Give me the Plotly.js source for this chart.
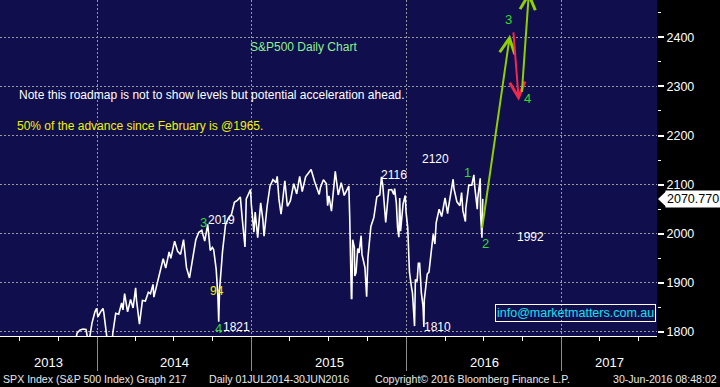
<!DOCTYPE html>
<html><head><meta charset="utf-8">
<script src="https://cdn.plot.ly/plotly-3.0.1.min.js"></script>
<style>html,body{margin:0;padding:0;background:#000;overflow:hidden}#chart{width:720px;height:387px}</style>
</head><body><div id="chart"></div>
<script>
const dates = [
'2013-10-25','2013-11-01','2013-11-08','2013-11-15','2013-11-22','2013-11-29','2013-12-06','2013-12-12','2013-12-20','2013-12-27','2013-12-31',
'2014-01-03','2014-01-10','2014-01-15','2014-01-17','2014-01-24','2014-01-31','2014-02-03','2014-02-05','2014-02-07','2014-02-14','2014-02-21','2014-02-28',
'2014-03-03','2014-03-07','2014-03-13','2014-03-14','2014-03-21','2014-03-27','2014-04-02','2014-04-04','2014-04-11','2014-04-15','2014-04-18','2014-04-25',
'2014-05-02','2014-05-07','2014-05-13','2014-05-15','2014-05-23','2014-05-30','2014-06-06','2014-06-12','2014-06-20','2014-06-24','2014-06-27',
'2014-07-03','2014-07-10','2014-07-17','2014-07-24','2014-07-31','2014-08-07','2014-08-15','2014-08-22','2014-08-29','2014-09-05','2014-09-12','2014-09-19',
'2014-09-25','2014-09-30','2014-10-03','2014-10-09','2014-10-13','2014-10-15','2014-10-17','2014-10-24','2014-10-31','2014-11-07','2014-11-14','2014-11-21',
'2014-11-28','2014-12-05','2014-12-10','2014-12-16','2014-12-19','2014-12-29','2014-12-31',
'2015-01-06','2015-01-09','2015-01-15','2015-01-22','2015-01-27','2015-01-30','2015-02-06','2015-02-13','2015-02-20','2015-02-27','2015-03-02','2015-03-06',
'2015-03-11','2015-03-13','2015-03-20','2015-03-26','2015-04-02','2015-04-10','2015-04-17','2015-04-24','2015-04-30','2015-05-08','2015-05-15','2015-05-21',
'2015-05-29','2015-06-05','2015-06-09','2015-06-12','2015-06-19','2015-06-26','2015-06-29','2015-07-02','2015-07-08','2015-07-17','2015-07-24','2015-07-28',
'2015-07-31','2015-08-07','2015-08-14','2015-08-18','2015-08-20','2015-08-21','2015-08-24','2015-08-25','2015-08-27','2015-08-31','2015-09-01','2015-09-04',
'2015-09-08','2015-09-11','2015-09-16','2015-09-18','2015-09-22','2015-09-25','2015-09-29','2015-10-02','2015-10-09','2015-10-16','2015-10-23','2015-10-30',
'2015-11-03','2015-11-06','2015-11-13','2015-11-20','2015-11-27','2015-12-02','2015-12-04','2015-12-08','2015-12-11','2015-12-14','2015-12-16','2015-12-18',
'2015-12-24','2015-12-29','2015-12-31',
'2016-01-04','2016-01-07','2016-01-08','2016-01-13','2016-01-15','2016-01-20','2016-01-22','2016-01-26','2016-01-29','2016-02-01','2016-02-05','2016-02-09',
'2016-02-11','2016-02-12','2016-02-19','2016-02-23','2016-02-26','2016-03-04','2016-03-08','2016-03-11','2016-03-18','2016-03-24','2016-04-01','2016-04-07',
'2016-04-08','2016-04-15','2016-04-20','2016-04-22','2016-04-29','2016-05-06','2016-05-10','2016-05-13','2016-05-19','2016-05-20','2016-05-27','2016-06-03',
'2016-06-08','2016-06-10','2016-06-16','2016-06-17','2016-06-23','2016-06-24','2016-06-27','2016-06-28','2016-06-29'
];
const spx = [
1759,1762,1771,1798,1804,1806,1805,1775,1818,1841,1848,
1831,1842,1848,1839,1790,1783,1741,1751,1797,1838,1836,1859,
1845,1878,1846,1841,1866,1849,1890,1865,1816,1842,1864,1863,
1881,1878,1897,1871,1900,1924,1949,1930,1963,1950,1961,
1985,1964,1958,1988,1931,1910,1955,1988,2003,2007,1985,2019,
1966,1972,1968,1928,1874,1821,1886,1964,2018,2032,2039,2064,
2068,2075,2026,1973,2071,2090,2059,
2003,2044,1992,2063,2030,1995,2055,2097,2110,2104,2117,2071,
2040,2053,2108,2056,2067,2102,2081,2117,2086,2116,2123,2131,
2107,2092,2080,2094,2110,2102,2057,2077,2046,2127,2079,2093,
2104,2078,2092,2097,2036,1971,1867,1868,1988,1972,1914,1921,
1970,1961,1996,1958,1943,1931,1872,1951,2015,2033,2075,2079,
2116,2099,2023,2089,2090,2080,2092,2063,2012,1993,2073,2005,
2061,2078,2044,
2012,1943,1922,1890,1880,1812,1907,1903,1940,1940,1880,1852,
1810,1865,1918,1922,1948,1999,1979,2022,2050,2035,2073,2041,
2048,2081,2111,2092,2065,2057,2084,2047,2025,2052,2099,2099,
2120,2096,2050,2071,2113,2037,1992,2036,2071
];
const lastValue = 2070.77;
const yearLabels = ['2013','2014','2015','2016','2017'];
const arrowFromDates = ['2016-06-27','2016-09-09','2016-09-29'];
const arrowFromValues = [2009, 2413, 2286];
const arrowToDates = ['2016-09-01','2016-09-22','2016-10-16'];
const arrowToValues = [2405, 2271, 2494];
const levelTexts = ['2120','2116','2019','1821','1810','1992'];
const waveTexts = ['1','2','3','4','3','4'];
const chartTitle = 'S&P500 Daily Chart';
const noteText = 'Note this roadmap is not to show levels but potential acceleration ahead.';
const fibText = '50% of the advance since February is @1965.';
const infoText = 'info@marketmatters.com.au';
const footerTexts = ['SPX Index (S&P 500 Index) Graph 217','Daily 01JUL2014-30JUN2016','Copyright\u00a9 2016 Bloomberg Finance L.P.','30-Jun-2016 08:48:02'];

const xRange = ['2013-05-17','2017-08-14'];
const yRange = [1791.8, 2476];
const W = 720, H = 387, PW = 657, PH = 336;
const FONT = 'Liberation Sans, Arial, sans-serif';
const GREEN = '#2fdc2f', WHITE = '#ffffff', YELLOW = '#f2f200';
const px = x => x / PW, py = y => 1 - y / PH;

function txt(t, x, y, color, size, anchor) {
  return {text: t, xref: 'paper', yref: 'paper', x: px(x), y: py(y), xanchor: anchor || 'left', yanchor: 'middle',
    showarrow: false, borderpad: 0, font: {family: FONT, size: size, color: color}};
}

const ann = [];
ann.push(txt(chartTitle, 249, 47, '#8ff08f', 12));
ann.push(txt(noteText, 18, 95, WHITE, 12));
ann.push(txt(fibText, 16, 126, YELLOW, 12));
// level labels
const levelPos = [[421,159],[380,175],[207,220],[222,327],[423,327],[516,237]];
levelTexts.forEach((t,i) => ann.push(txt(t, levelPos[i][0], levelPos[i][1], WHITE, 12)));
// wave labels
const wavePos = [[463,172],[481,243],[199,222],[214,328],[504,19],[523,98]];
waveTexts.forEach((t,i) => ann.push(txt(t, wavePos[i][0], wavePos[i][1], GREEN, 13)));
ann.push(txt('94', 209, 291, YELLOW, 12));
// info box
ann.push({text: infoText, xref: 'paper', yref: 'paper', x: px(656), y: py(313), xanchor: 'right', yanchor: 'middle',
  showarrow: false, bordercolor: 'white', borderwidth: 1, borderpad: 1, font: {family: FONT, size: 12.5, color: '#16e0f0'}});
// roadmap arrows
const arrowColors = ['#8fd000', '#f0284a', '#8fd000'];
arrowFromDates.forEach((d,i) => ann.push({
  x: arrowToDates[i], y: arrowToValues[i], ax: d, ay: arrowFromValues[i],
  xref: 'x', yref: 'y', axref: 'x', ayref: 'y', text: '', showarrow: true,
  arrowhead: 5, arrowsize: 1.5, arrowwidth: 2, arrowcolor: arrowColors[i], standoff: 0, startstandoff: 0
}));
// year labels centred in visible part of each year
const r0 = Date.UTC(2013,4,17), r1 = Date.UTC(2017,7,14);
yearLabels.forEach(y => {
  const a = Math.max(r0, Date.UTC(+y,0,1)), b = Math.min(r1, Date.UTC(+y+1,0,1));
  ann.push({text: y, xref: 'x', yref: 'paper', x: (a+b)/2, y: py(362), xanchor: 'center', yanchor: 'middle',
    showarrow: false, font: {family: FONT, size: 13, color: WHITE}});
});
// footer
ann.push(txt(footerTexts[0], 2, 379, '#e8e8e8', 10.6));
ann.push(txt(footerTexts[1], 208, 379, '#e8e8e8', 10.6));
ann.push(txt(footerTexts[2], 374, 379, '#e8e8e8', 10.6));
ann.push(txt(footerTexts[3], 718, 379, '#e8e8e8', 10.6, 'right'));
// last value label
ann.push({text: lastValue.toFixed(3), xref: 'paper', yref: 'y', x: 1, y: lastValue, xanchor: 'left', yanchor: 'middle',
  xshift: 8, showarrow: false, bgcolor: 'white', borderpad: 1, font: {family: FONT, size: 12.5, color: 'black'}});

const unitPx = PH / (yRange[1] - yRange[0]);
const shapes = [{
  type: 'path', xref: 'paper', yref: 'y', fillcolor: 'white', line: {width: 0},
  path: `M ${1 + 1/PW},${lastValue} L ${1 + 9/PW},${lastValue + 7.5/unitPx} L ${1 + 9/PW},${lastValue - 7.5/unitPx} Z`
}];

const trace = {x: dates, y: spx, type: 'scatter', mode: 'lines', line: {color: 'white', width: 1.6}, hoverinfo: 'skip'};

const grid = {gridcolor: '#9a9a9a', griddash: '2px,2px', gridwidth: 1};
const layout = {
  width: W, height: H, margin: {l: 0, r: W - PW, t: 0, b: H - PH},
  paper_bgcolor: '#000000', plot_bgcolor: '#100e4c', showlegend: false,
  xaxis: Object.assign({type: 'date', range: xRange, tickmode: 'linear', tick0: '2014-01-01', dtick: 'M12',
    showgrid: true, ticks: 'outside', ticklen: 34, tickcolor: '#8c8c8c', tickwidth: 1, showticklabels: false,
    showline: true, linecolor: 'white', linewidth: 1, zeroline: false, fixedrange: true,
    minor: {tick0: '2014-01-01', dtick: 'M3', ticks: 'outside', ticklen: 4, tickcolor: 'white', tickwidth: 1, showgrid: false}}, grid),
  yaxis: Object.assign({side: 'right', range: yRange, tickmode: 'linear', tick0: 1800, dtick: 100,
    showgrid: true, ticks: 'outside', ticklen: 6, tickwidth: 2, tickcolor: 'white', zeroline: false, showline: false,
    tickfont: {family: FONT, size: 12.5, color: 'white'}, fixedrange: true,
    minor: {tick0: 1800, dtick: 50, ticks: 'outside', ticklen: 3, tickcolor: 'white', tickwidth: 1, showgrid: false}}, grid),
  annotations: ann, shapes: shapes
};
Plotly.newPlot('chart', [trace], layout, {displayModeBar: false, staticPlot: true});
</script></body></html>
